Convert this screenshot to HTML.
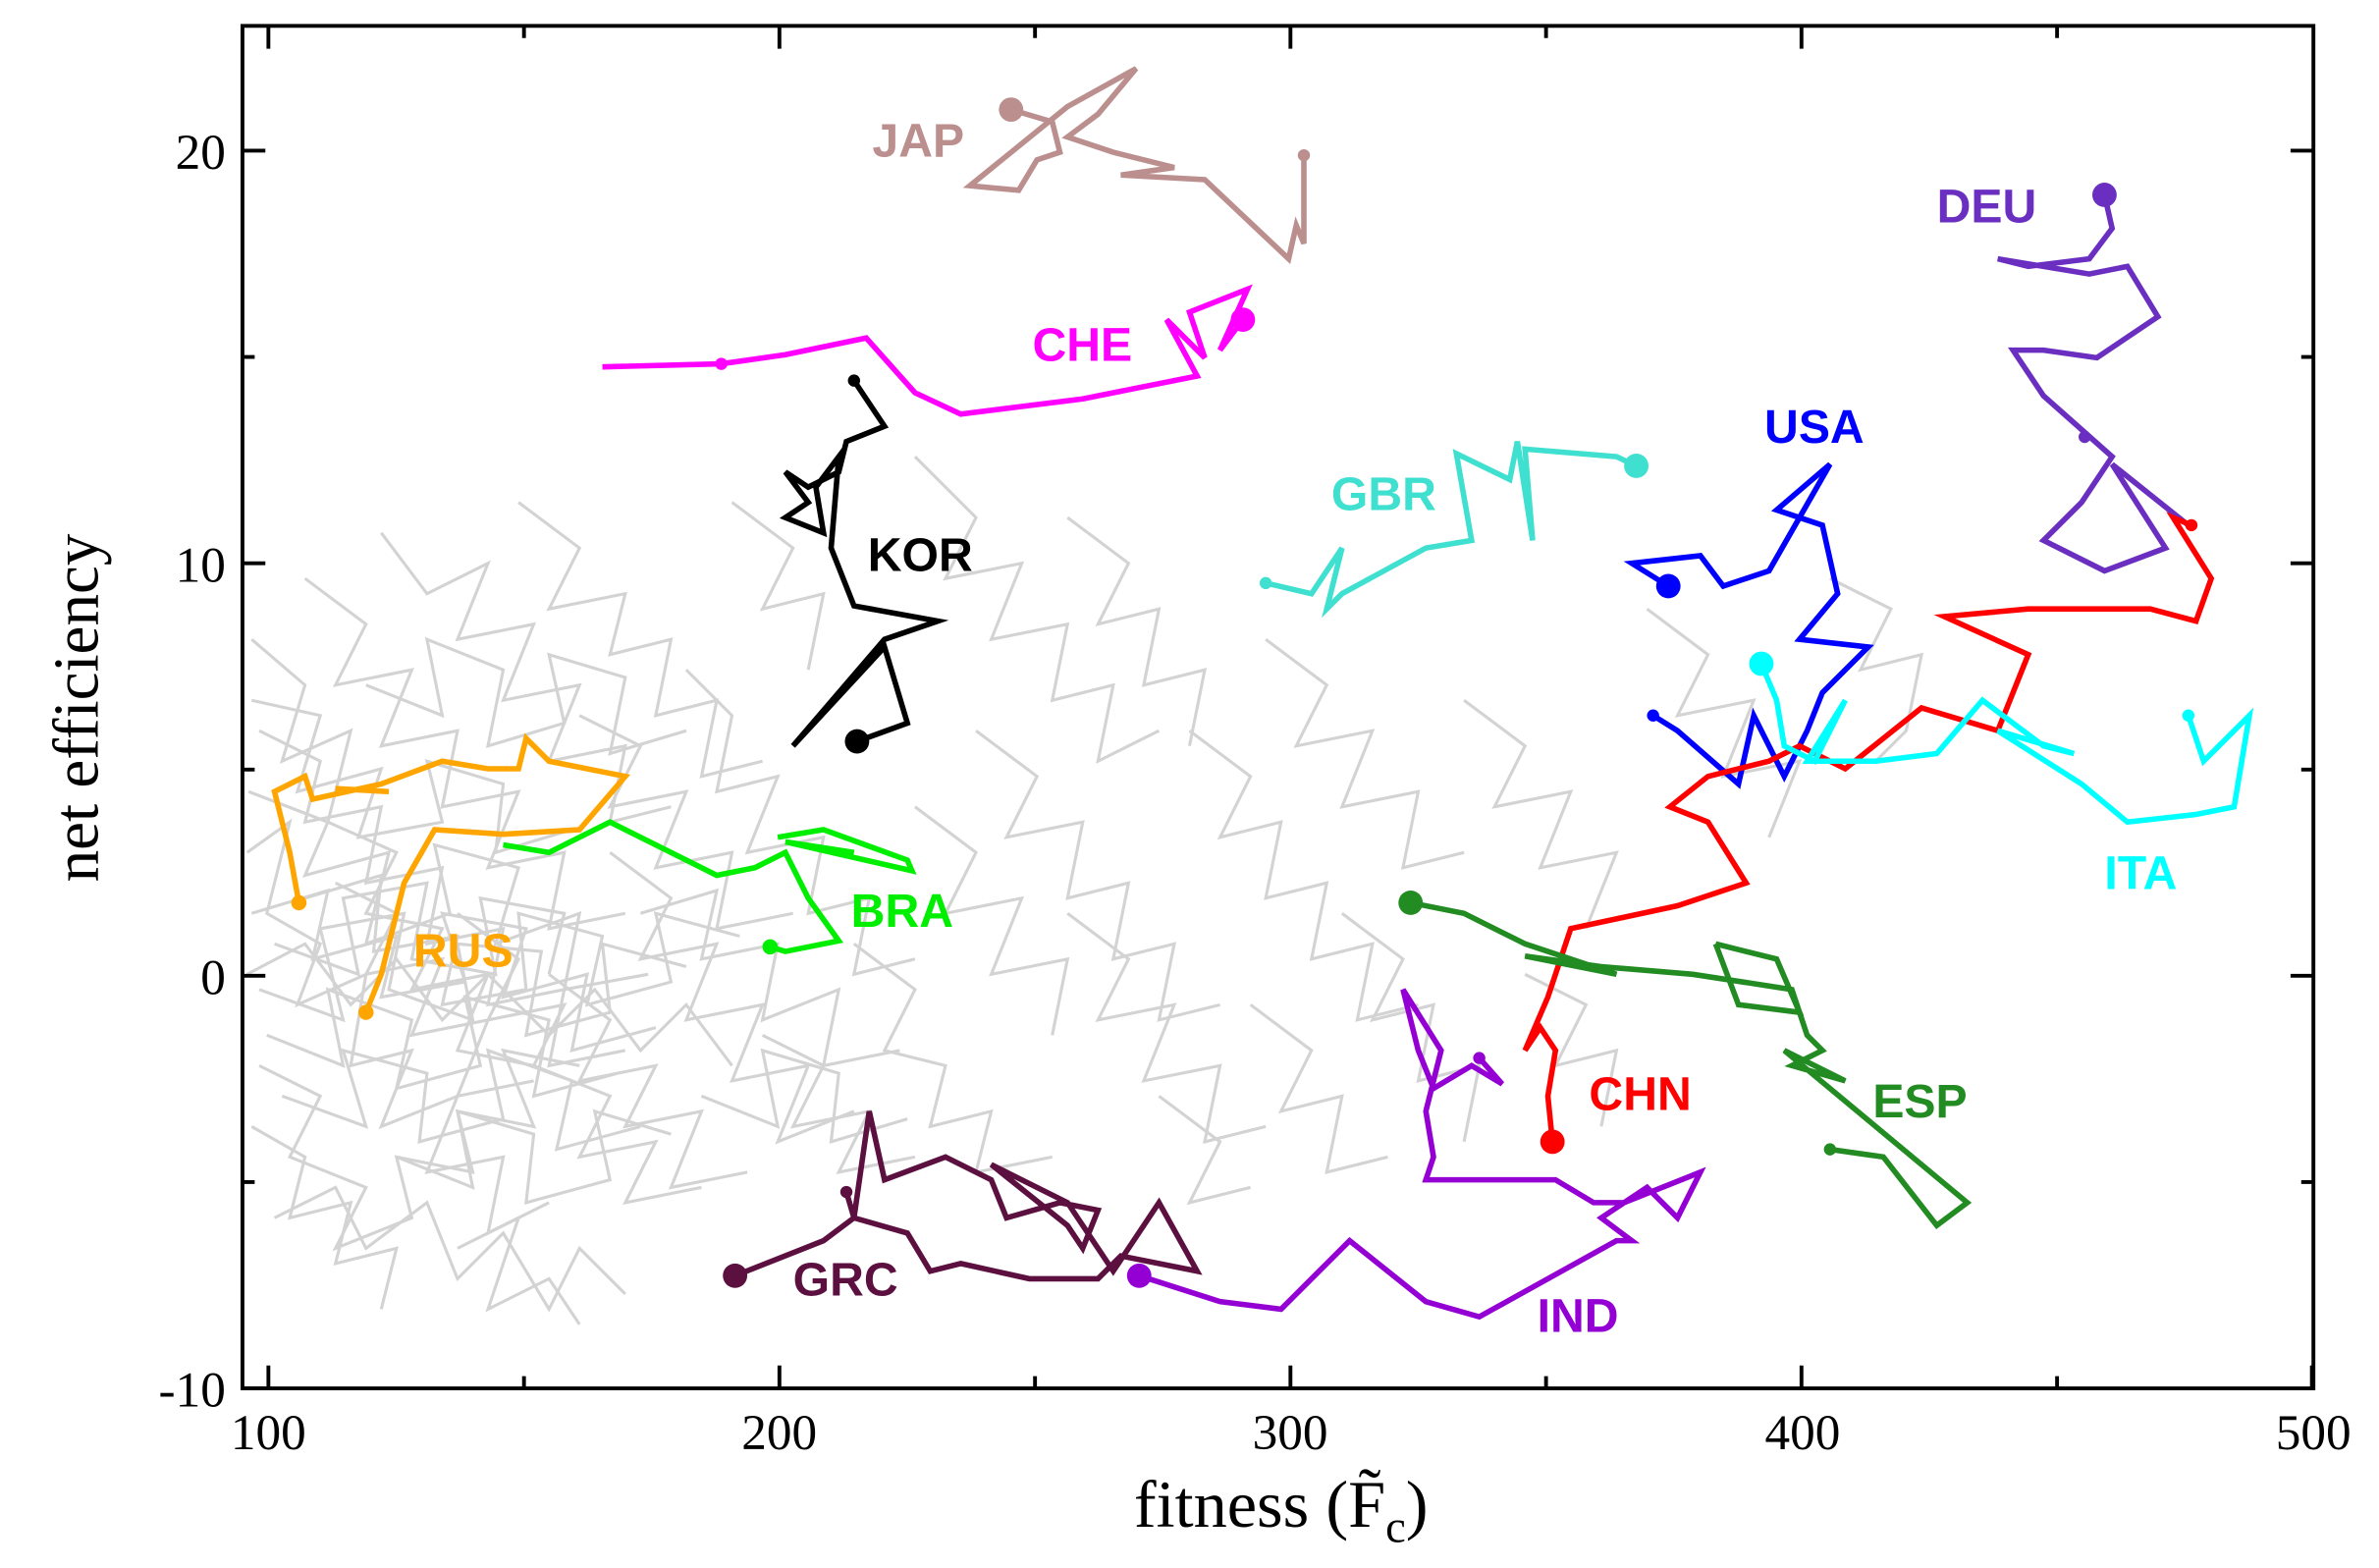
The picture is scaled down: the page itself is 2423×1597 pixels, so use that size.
<!DOCTYPE html>
<html><head><meta charset="utf-8"><style>
html,body{margin:0;padding:0;background:#fff;}
svg{display:block;}
.l{font-family:"Liberation Sans",sans-serif;font-weight:bold;font-size:31px;}
.t{font-family:"Liberation Serif",serif;font-size:33px;fill:#000;}
</style></head><body>
<svg id="s" width="2423" height="1597" viewBox="0 0 1560 1030" preserveAspectRatio="none" xmlns="http://www.w3.org/2000/svg">
<rect width="1560" height="1030" fill="#fff"/>
<g id="gray" fill="none" stroke="#d3d3d3" stroke-width="2">
<polyline points="162,560 190,540 175,600 210,620 195,660 240,640 230,700 270,690 250,740 300,720 280,770 330,760 320,810 360,790"/>
<polyline points="165,420 200,450 185,500 230,480 215,540 260,560 240,600 290,610 270,650 320,640 300,690 350,700"/>
<polyline points="170,700 210,720 190,760 240,780 220,820 270,800 260,760 310,770 300,730 350,740 330,690 380,700"/>
<polyline points="200,380 240,410 220,450 270,440 250,490 300,480 290,530 340,520 320,570 370,560 360,610 410,600"/>
<polyline points="162,640 200,620 230,660 260,630 290,670 320,640 360,680 390,650 420,690 450,660 480,700"/>
<polyline points="250,350 280,390 320,370 300,420 350,410 330,460 380,450 360,500 410,490 400,540 440,530"/>
<polyline points="180,800 220,780 240,820 280,790 300,840 330,810 360,860 380,820 410,850"/>
<polyline points="340,330 380,360 360,400 410,390 400,430 440,420 430,470 470,460 460,510 500,500"/>
<polyline points="400,560 440,590 420,630 470,620 450,670 500,660 480,710 530,700 510,750 560,730"/>
<polyline points="300,600 340,630 320,670 370,660 350,700 400,720 380,760 430,750 410,790 460,780"/>
<polyline points="450,440 480,470 470,520 510,510 490,560 540,550 530,600 570,590 560,640 600,630"/>
<polyline points="560,620 600,650 580,690 620,700 610,740 650,730 640,770 690,760"/>
<polyline points="600,300 640,340 620,380 670,370 650,420 700,410 690,460 730,450 720,500 760,480"/>
<polyline points="640,480 680,510 660,550 710,540 700,590 740,580 730,630 770,620 760,670 800,660"/>
<polyline points="700,600 740,630 720,670 770,660 750,710 800,700 790,750 830,740"/>
<polyline points="780,480 820,510 800,550 840,540 830,590 870,580 860,630 900,620 890,670 930,660"/>
<polyline points="830,420 870,450 850,490 900,480 880,530 930,520 920,570 960,560"/>
<polyline points="880,600 920,630 900,670 940,660 930,710 970,700 960,750"/>
<polyline points="960,460 1000,490 980,530 1030,520 1010,570 1060,560 1040,610"/>
<polyline points="1080,400 1120,430 1100,470 1150,460 1130,510 1180,500 1160,550"/>
<polyline points="1200,380 1240,400 1220,440 1260,430 1250,480 1230,500"/>
<polyline points="700,340 740,370 720,410 760,400 750,450 790,440 780,490"/>
<polyline points="480,330 520,360 500,400 540,390 530,440"/>
<polyline points="170,480 210,500 200,540 250,530 240,580 290,570 280,620 330,610 320,660 370,650 360,700 410,690"/>
<polyline points="165,740 200,760 190,800 230,790 220,830 260,820 250,860"/>
<polyline points="360,640 400,670 380,710 430,700 410,740 460,730 440,780 490,770"/>
<polyline points="220,580 260,600 240,640 290,630 270,680 320,670 300,720 350,710"/>
<polyline points="500,680 540,700 520,740 570,730 550,770 600,760"/>
<polyline points="380,470 420,490 400,530 450,520 430,570 480,560 470,610 520,600"/>
<polyline points="600,530 640,560 620,600 670,590 650,640 700,630 690,680"/>
<polyline points="820,660 860,690 840,730 880,720 870,770 910,760"/>
<polyline points="1000,640 1040,660 1020,700 1060,690 1050,740"/>
<polyline points="760,720 800,750 780,790 820,780"/>
<polyline points="300,820 340,800 320,860 360,840 380,870"/>
<polyline points="165,600 215,585 205,630 260,615 250,655 305,645 290,600 345,610 330,655 385,640 375,690 430,675"/>
<polyline points="170,650 225,670 210,610 265,600 255,650 310,670 300,620 355,625 345,680 400,665 395,620 450,635"/>
<polyline points="163,520 215,540 200,575 255,560 240,620 295,600 285,555 340,570 325,620 380,600 370,650 425,640"/>
<polyline points="175,680 225,700 215,650 270,670 260,715 315,700 305,655 360,670 350,720 405,705"/>
<polyline points="165,460 210,470 195,520 250,505 235,550 290,540 280,500 330,515 325,560 375,545"/>
<polyline points="185,720 240,740 225,690 280,705 275,750 330,735 320,690 375,710 365,755 420,740"/>
<polyline points="200,590 250,575 245,625 300,615 290,660 345,650 340,600 395,615 385,660 440,645 430,600 485,615"/>
<polyline points="240,450 290,470 280,420 330,440 320,490 370,475 360,430 410,445 400,495 450,480"/>
<polyline points="420,600 470,585 460,630 510,620 500,670 550,650 540,700 590,690"/>
<polyline points="180,620 235,640 225,590 280,580 270,630 325,640 315,590 370,600 360,640"/>
<polyline points="260,760 310,780 300,730 350,745 345,790 400,775 390,730 440,745"/>
<polyline points="460,720 510,740 500,690 550,705 545,750 595,735"/>
</g>
<g fill="none" stroke-width="3.6" stroke-linejoin="miter">
<polyline stroke="#bc8f8f" points="663,72 690,80 695,100 680,105 668,125 636,122 700,70 745,45 720,75 700,90 730,100 770,110 735,115 790,118 845,170 850,148 855,160 855,102"/>
<polyline stroke="#ff00ff" points="395,241 473,239 515,233 568,222 600,258 630,272 710,262 785,247 765,210 790,235 780,205 818,190 800,230 815,210"/>
<polyline stroke="#000" points="560,250 580,280 555,290 550,310 530,320 515,310 530,330 515,340 540,350 535,320 550,300 545,360 560,398 615,408 580,420 520,490 580,425 595,475 562,487"/>
<polyline stroke="#40e0d0" points="830,383 860,390 880,360 870,400 880,390 935,360 965,355 955,298 990,315 995,290 1005,355 1000,295 1060,300 1073,306"/>
<polyline stroke="#0000ff" points="1094,385 1070,370 1115,365 1130,385 1160,375 1200,305 1165,335 1195,345 1205,390 1180,420 1225,425 1195,455 1185,480 1170,510 1150,470 1140,515 1100,480 1084,470"/>
<polyline stroke="#6a2fc0" points="1380,128 1385,150 1370,170 1330,175 1310,170 1370,180 1395,175 1415,208 1375,235 1340,230 1320,230 1340,260 1385,300 1365,330 1340,355 1380,375 1420,360 1385,305 1435,345"/>
<polyline stroke="#ff0000" points="1018,750 1015,720 1020,690 1010,675 1000,690 1015,655 1030,610 1100,595 1145,580 1120,540 1095,530 1120,510 1160,500 1180,490 1210,505 1260,465 1310,480 1330,430 1275,405 1330,400 1410,400 1440,408 1450,380 1425,340 1437,345"/>
<polyline stroke="#00ffff" points="1155,436 1165,460 1170,490 1190,500 1210,460 1185,500 1230,500 1270,495 1300,460 1340,490 1360,495 1310,480 1365,515 1395,540 1440,535 1465,530 1475,470 1445,500 1435,470"/>
<polyline stroke="#228b22" points="925,593 960,600 1000,620 1060,640 1000,628 1050,635 1110,640 1175,650 1185,680 1195,690 1175,700 1210,710 1170,690 1230,740 1290,790 1270,805 1235,760 1200,755"/>
<polyline stroke="#228b22" points="1125,620 1165,630 1180,665 1140,660 1125,620"/>
<polyline stroke="#00ee00" points="505,622 515,625 550,618 530,590 515,560 495,570 470,575 440,560 400,540 380,550 360,560 330,555"/>
<polyline stroke="#00ee00" points="510,550 540,545 595,565 598,572 515,553 560,560"/>
<polyline stroke="#ffa500" points="196,593 190,560 180,520 200,510 205,525 250,515 290,500 320,505 340,505 345,485 360,500 410,510 380,545 330,548 285,545 265,580 250,640 240,665"/>
<polyline stroke="#ffa500" points="220,518 255,520"/>
<polyline stroke="#9400d3" points="970,695 985,712 965,700 945,712 940,715 930,690 920,650 945,690 935,730 940,760 935,775 1020,775 1045,790 1065,790 1115,770 1100,800 1080,780 1050,800 1070,815 1060,815 970,865 935,855 885,815 840,860 800,855 747,838"/>
<polyline stroke="#5c1040" points="482,838 540,815 560,800 570,730 580,775 620,760 650,775 660,800 695,790 720,795 710,820 700,805 650,765 700,790 730,835 760,790 785,835 735,825 720,840 675,840 630,830 610,835 595,810 560,800 555,783"/>
</g>
<g>
<circle cx="663" cy="72" r="8" fill="#bc8f8f"/><circle cx="855" cy="102" r="4" fill="#bc8f8f"/>
<circle cx="815" cy="210" r="8" fill="#ff00ff"/><circle cx="473" cy="239" r="4" fill="#ff00ff"/>
<circle cx="562" cy="487" r="8" fill="#000"/><circle cx="560" cy="250" r="4" fill="#000"/>
<circle cx="1073" cy="306" r="8" fill="#40e0d0"/><circle cx="830" cy="383" r="4" fill="#40e0d0"/>
<circle cx="1094" cy="385" r="8" fill="#0000ff"/><circle cx="1084" cy="470" r="4" fill="#0000ff"/>
<circle cx="1380" cy="128" r="8" fill="#6a2fc0"/><circle cx="1367" cy="287" r="4" fill="#6a2fc0"/>
<circle cx="1018" cy="750" r="8" fill="#ff0000"/><circle cx="1437" cy="345" r="4" fill="#ff0000"/>
<circle cx="1155" cy="436" r="8" fill="#00ffff"/><circle cx="1435" cy="470" r="4" fill="#00ffff"/>
<circle cx="925" cy="593" r="8" fill="#228b22"/><circle cx="1200" cy="755" r="4" fill="#228b22"/>
<circle cx="505" cy="622" r="5" fill="#00ee00"/>
<circle cx="196" cy="593" r="5" fill="#ffa500"/><circle cx="240" cy="665" r="5" fill="#ffa500"/>
<circle cx="747" cy="838" r="8" fill="#9400d3"/><circle cx="970" cy="695" r="4" fill="#9400d3"/>
<circle cx="482" cy="838" r="8" fill="#5c1040"/><circle cx="555" cy="783" r="4" fill="#5c1040"/>
</g>
<g class="l">
<text x="572" y="103" fill="#bc8f8f">JAP</text>
<text x="677" y="237" fill="#ff00ff">CHE</text>
<text x="569" y="375" fill="#000">KOR</text>
<text x="873" y="335" fill="#40e0d0">GBR</text>
<text x="1157" y="291" fill="#0000ff">USA</text>
<text x="1270" y="146" fill="#6a2fc0">DEU</text>
<text x="1380" y="584" fill="#00ffff">ITA</text>
<text x="1042" y="729" fill="#ff0000">CHN</text>
<text x="1228" y="734" fill="#228b22">ESP</text>
<text x="558" y="609" fill="#00ee00">BRA</text>
<text x="271" y="635" fill="#ffa500">RUS</text>
<text x="1008" y="875" fill="#9400d3">IND</text>
<text x="520" y="851" fill="#5c1040">GRC</text>
</g>
<rect x="159" y="17" width="1358" height="895" fill="none" stroke="#000" stroke-width="2.5"/>
<g stroke="#000" stroke-width="2.5">
<path d="M176,912v-15M343.6,912v-8M511.1,912v-15M678.7,912v-8M846.2,912v-15M1013.8,912v-8M1181.3,912v-15M1348.9,912v-8M1516,912v-15
M176,17v15M343.6,17v8M511.1,17v15M678.7,17v8M846.2,17v15M1013.8,17v8M1181.3,17v15M1348.9,17v8
M159,912h15M159,776.5h8M159,641h15M159,505.5h8M159,370h15M159,234.5h8M159,99h15
M1517,776.5h-8M1517,641h-15M1517,505.5h-8M1517,370h-15M1517,234.5h-8M1517,99h-15"/>
</g>
<g class="t">
<text x="176" y="952" text-anchor="middle">100</text>
<text x="511" y="952" text-anchor="middle">200</text>
<text x="846" y="952" text-anchor="middle">300</text>
<text x="1182" y="952" text-anchor="middle">400</text>
<text x="1517" y="952" text-anchor="middle">500</text>
<text x="148" y="111" text-anchor="end">20</text>
<text x="148" y="382" text-anchor="end">10</text>
<text x="148" y="653" text-anchor="end">0</text>
<text x="148" y="924" text-anchor="end">-10</text>
<text x="840" y="1003" text-anchor="middle" style="font-size:44px">fitness (F̃<tspan dy="10" style="font-size:30px">c</tspan><tspan dy="-10">)</tspan></text>
<text transform="translate(64,465) rotate(-90)" text-anchor="middle" style="font-size:42px">net efficiency</text>
</g>
</svg>
</body></html>
